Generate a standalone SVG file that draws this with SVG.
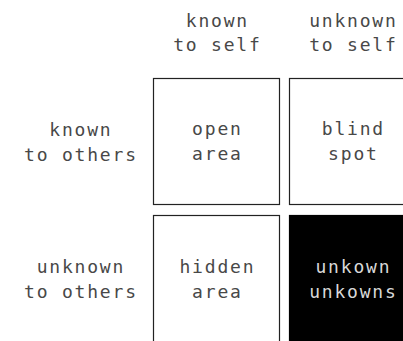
<svg xmlns="http://www.w3.org/2000/svg" width="403" height="341" viewBox="0 0 403 341">
  <style>
    text { font-family: "DejaVu Sans Mono", "Liberation Mono", monospace; font-size: 18px; letter-spacing: 1.8px; text-anchor: middle; fill: #484848; }
    .box { fill: #fff; stroke: #222; stroke-width: 1.2; }
    .dark { fill: #000; stroke: #000; stroke-width: 1.2; }
    text.inv { fill: #d8d8d8; }
  </style>
  <rect width="403" height="341" fill="#fff"/>
  <g id="header-known">
    <text x="217.4" y="27">known</text>
    <text x="217.4" y="51">to self</text>
  </g>
  <g id="header-unknown">
    <text x="353.4" y="27">unknown</text>
    <text x="353.4" y="51">to self</text>
  </g>
  <g id="row-known">
    <text x="80.9" y="136">known</text>
    <text x="80.9" y="161">to others</text>
  </g>
  <g id="row-unknown">
    <text x="80.9" y="273">unknown</text>
    <text x="80.9" y="298">to others</text>
  </g>
  <g id="open-area">
    <rect class="box" x="153.5" y="78.5" width="126" height="126"/>
    <text x="217.4" y="135">open</text>
    <text x="217.4" y="160">area</text>
  </g>
  <g id="blind-spot">
    <rect class="box" x="289.5" y="78.5" width="126" height="126"/>
    <text x="353.4" y="135">blind</text>
    <text x="353.4" y="160">spot</text>
  </g>
  <g id="hidden-area">
    <rect class="box" x="153.5" y="215.5" width="126" height="130"/>
    <text x="217.4" y="273">hidden</text>
    <text x="217.4" y="298">area</text>
  </g>
  <g id="unknown-unknowns">
    <rect class="dark" x="289.5" y="215.5" width="126" height="130"/>
    <text class="inv" x="353.4" y="273">unkown</text>
    <text class="inv" x="353.4" y="298">unkowns</text>
  </g>
  <g id="connectors"></g>
</svg>
